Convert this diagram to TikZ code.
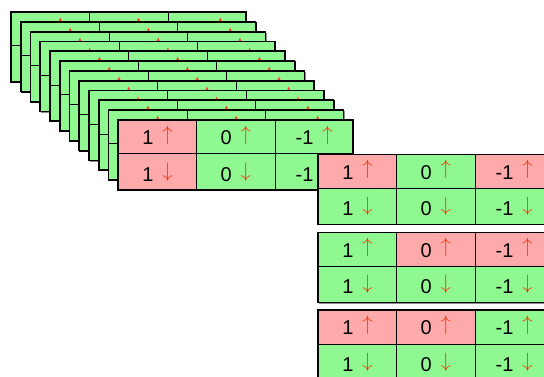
\documentclass[tikz,border=0pt]{standalone}
\usepackage{fontspec}
\setmainfont{Liberation Sans}
\definecolor{cg}{HTML}{90F890}
\definecolor{cp}{HTML}{FFAAAA}
\definecolor{ca}{HTML}{FF3311}
\newcommand\upa{\hspace{0.45em}{\color{ca}\fontsize{22.5}{22.5}\selectfont\raisebox{0.194em}{$\uparrow$}}}
\newcommand\dna{\hspace{0.45em}{\color{ca}\fontsize{22.5}{22.5}\selectfont\raisebox{0.194em}{$\downarrow$}}}
\tikzset{
  cell/.style={draw, line width=0.7pt, rectangle, inner sep=0pt, anchor=north west,
    minimum width=78.33pt, font=\fontsize{20}{20}\selectfont},
  toprow/.style={cell, minimum height=33.5pt, text depth=3pt},
  botrow/.style={cell, minimum height=36.5pt},
  cardshadow/.style={fill=black!45},
  cardframe/.style={draw, line width=1.4pt}
}
% #1 x, #2 y, #3 name, #4-#6 top colours, #7-#9 bottom colours
\newcommand\mycard[9]{%
  \fill[cardshadow] (#1+1.2,#2+1.2) rectangle (#1+236.2,#2+71.2);
  \node[toprow, fill=#4] (#3t1) at (#1,#2) {1\upa};
  \node[toprow, fill=#5] (#3t2) at (#1+78.33,#2) {0\upa};
  \node[toprow, fill=#6] (#3t3) at (#1+156.67,#2) {-1\upa};
  \node[botrow, fill=#7] (#3b1) at (#1,#2+33.5) {1\dna};
  \node[botrow, fill=#8] (#3b2) at (#1+78.33,#2+33.5) {0\dna};
  \node[botrow, fill=#9] (#3b3) at (#1+156.67,#2+33.5) {-1\dna};
  \draw[cardframe] (#1,#2) rectangle (#1+235,#2+70);
}
\begin{document}
\begin{tikzpicture}[x=1pt,y=-1pt]
\useasboundingbox (0,0) rectangle (544,377);
\clip (0,0) rectangle (544,377);
\foreach \i in {0,...,10}{
  \pgfmathsetmacro\cx{11+9.73*\i}
  \pgfmathsetmacro\cy{12+9.8*\i}
  \mycard{\cx}{\cy}{s\i}{cg}{cg}{cg}{cg}{cg}{cg}
}
\mycard{118}{120}{f}{cp}{cg}{cg}{cp}{cg}{cg}
\mycard{318}{154.3}{ra}{cp}{cg}{cp}{cg}{cg}{cg}
\mycard{318}{232.3}{rb}{cg}{cp}{cp}{cg}{cg}{cg}
\mycard{318}{310}{rc}{cp}{cp}{cg}{cg}{cg}{cg}
\end{tikzpicture}
\end{document}
